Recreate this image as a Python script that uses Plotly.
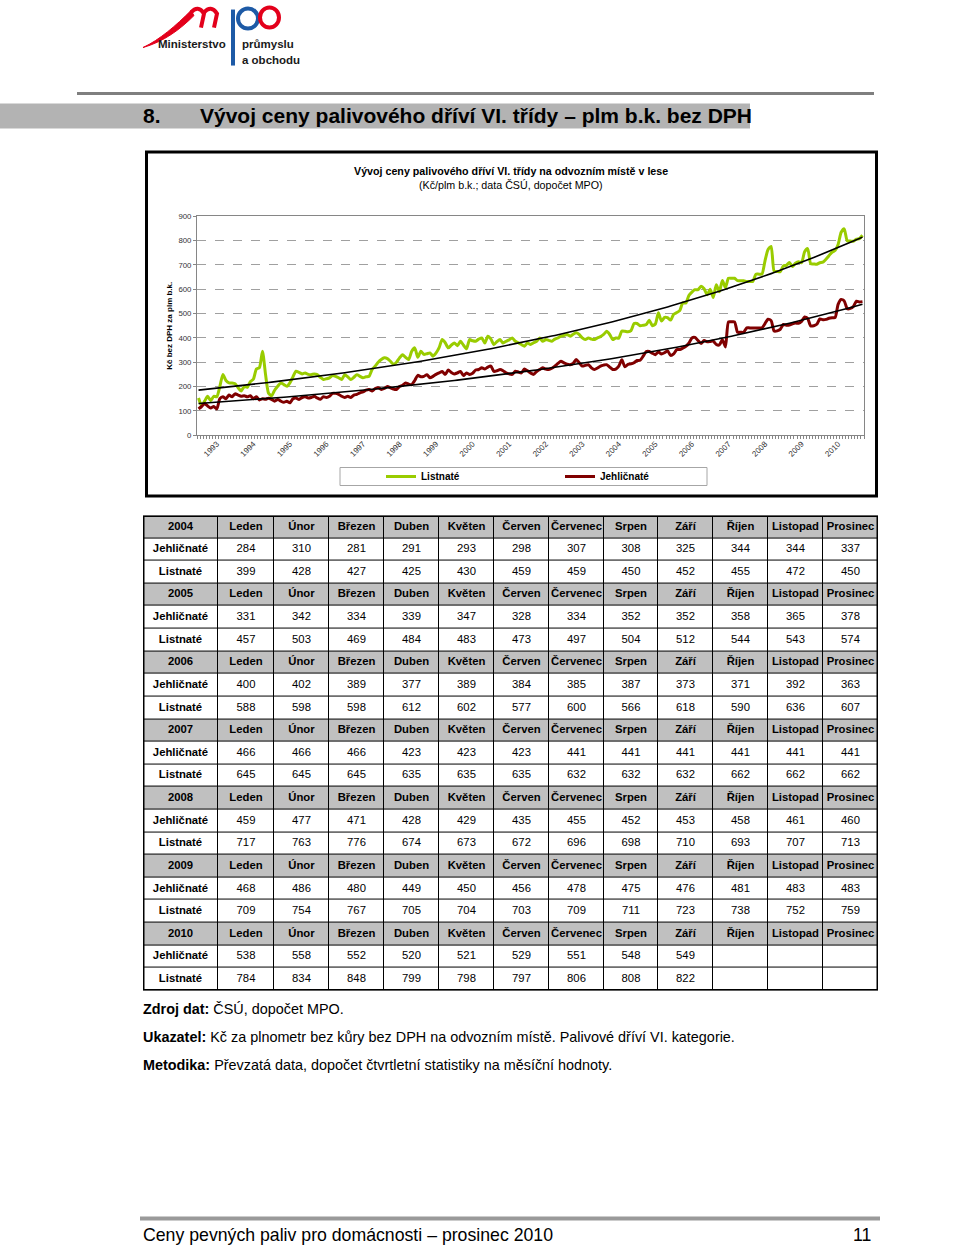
import numpy as np
import plotly.graph_objects as go

W, H = 960, 1246
# small vertical stretch about the page centre to match the reference layout
VS, VC = 1.0072, 623.0
def px(x): return x / W
def py(y): return 1 - (VC + (y - VC) * VS) / H

FONT = "Liberation Sans, Arial, sans-serif"

# ---------------- data ----------------
months = ["Leden", "Únor", "Březen", "Duben", "Květen", "Červen",
          "Červenec", "Srpen", "Září", "Říjen", "Listopad", "Prosinec"]
table_years = [2004, 2005, 2006, 2007, 2008, 2009, 2010]
axis_years = list(range(1993, 2011))
first_year, first_month = 1992, 7

jehl_1992_2003 = [
    108, 118, 130, 120, 112, 118, 108, 150, 158, 150, 165, 158,
    170, 165, 160, 162, 158, 162, 150, 158, 145, 150, 148, 152,
    147, 140, 147, 140, 135, 140, 133, 150, 153, 147, 155, 158,
    153, 155, 160, 153, 148, 158, 155, 160, 172, 172, 168, 160,
    155, 160, 155, 165, 168, 174, 178, 185, 188, 182, 192, 195,
    188, 192, 200, 195, 190, 188, 200, 205, 215, 210, 208, 225,
    246, 240, 242, 249, 236, 242, 250, 256, 262, 250, 268, 258,
    252, 256, 262, 245, 256, 250, 255, 268, 270, 277, 272, 280,
    284, 262, 265, 270, 265, 256, 252, 250, 263, 260, 256, 272,
    265, 256, 250, 262, 270, 277, 272, 270, 275, 284, 295, 304,
    297, 292, 290, 295, 311, 298, 284, 287, 290, 277, 270, 276,
    284, 288, 290, 280, 270, 272]
list_1992_2003 = [
    153, 122, 140, 160, 142, 160, 158, 200, 250, 225, 215, 215,
    212, 195, 182, 200, 197, 220, 230, 272, 278, 345, 250, 172,
    162, 185, 201, 215, 208, 201, 215, 240, 263, 258, 252, 256,
    250, 249, 252, 249, 238, 229, 232, 236, 245, 242, 236, 229,
    249, 240, 229, 238, 249, 242, 236, 240, 242, 270, 284, 300,
    311, 318, 315, 304, 292, 300, 318, 331, 320, 311, 345, 359,
    320, 345, 332, 335, 338, 325, 338, 360, 393, 380, 359, 370,
    379, 368, 386, 370, 355, 393, 388, 386, 395, 400, 379, 407,
    395, 373, 385, 393, 379, 386, 392, 400, 386, 380, 373, 366,
    379, 373, 380, 386, 400, 386, 393, 390, 386, 395, 400, 407,
    410, 414, 407, 415, 421, 414, 400, 393, 400, 395, 393, 400,
    405, 414, 427, 414, 393, 400]

jehl_2004 = [284, 310, 281, 291, 293, 298, 307, 308, 325, 344, 344, 337]
list_2004 = [399, 428, 427, 425, 430, 459, 459, 450, 452, 455, 472, 450]
jehl_2005 = [331, 342, 334, 339, 347, 328, 334, 352, 352, 358, 365, 378]
list_2005 = [457, 503, 469, 484, 483, 473, 497, 504, 512, 544, 543, 574]
jehl_2006 = [400, 402, 389, 377, 389, 384, 385, 387, 373, 371, 392, 363]
list_2006 = [588, 598, 598, 612, 602, 577, 600, 566, 618, 590, 636, 607]
jehl_2007 = [466, 466, 466, 423, 423, 423, 441, 441, 441, 441, 441, 441]
list_2007 = [645, 645, 645, 635, 635, 635, 632, 632, 632, 662, 662, 662]
jehl_2008 = [459, 477, 471, 428, 429, 435, 455, 452, 453, 458, 461, 460]
list_2008 = [717, 763, 776, 674, 673, 672, 696, 698, 710, 693, 707, 713]
jehl_2009 = [468, 486, 480, 449, 450, 456, 478, 475, 476, 481, 483, 483]
list_2009 = [709, 754, 767, 705, 704, 703, 709, 711, 723, 738, 752, 759]
jehl_2010 = [538, 558, 552, 520, 521, 529, 551, 548, 549]
list_2010 = [784, 834, 848, 799, 798, 797, 806, 808, 822]

jehl_tab = [jehl_2004, jehl_2005, jehl_2006, jehl_2007, jehl_2008, jehl_2009, jehl_2010]
list_tab = [list_2004, list_2005, list_2006, list_2007, list_2008, list_2009, list_2010]

col_widths = [75, 56, 55, 55, 55, 55, 55, 55, 54, 55, 55, 55, 55]

jehl = jehl_1992_2003 + sum(jehl_tab, [])
listn = list_1992_2003 + sum(list_tab, [])
n = len(jehl)
x = np.arange(n)

tickvals = [(yr - first_year) * 12 + (1 - first_month) for yr in axis_years]
ticktext = [str(yr) for yr in axis_years]

def exp_trend(vals):
    a, b = np.polyfit(x, np.log(np.array(vals, dtype=float)), 1)
    return np.exp(b) * np.exp(a * x)

fig = go.Figure()
fig.add_trace(go.Scatter(x=x, y=listn, name="Listnaté", mode="lines",
                         line=dict(color="#99cc00", width=3, shape="spline", smoothing=0.6),
                         hoverinfo="skip"))
fig.add_trace(go.Scatter(x=x, y=jehl, name="Jehličnaté", mode="lines",
                         line=dict(color="#800000", width=3, shape="spline", smoothing=0.6),
                         hoverinfo="skip"))
fig.add_trace(go.Scatter(x=x, y=exp_trend(listn), mode="lines", showlegend=False,
                         line=dict(color="black", width=1.6), hoverinfo="skip"))
fig.add_trace(go.Scatter(x=x, y=exp_trend(jehl), mode="lines", showlegend=False,
                         line=dict(color="black", width=1.6), hoverinfo="skip"))

# ---------------- table (heatmap cells + text on its own axes) ----------------
rows_text = []
rows_gray = []
for k, yr in enumerate(table_years):
    rows_text.append(["<b>%d</b>" % yr] + ["<b>%s</b>" % m for m in months])
    rows_gray.append([1] * 13)
    for label, series in (("Jehličnaté", jehl_tab[k]), ("Listnaté", list_tab[k])):
        rows_text.append(["<b>%s</b>" % label] +
                         [str(series[m]) if m < len(series) else "" for m in range(12)])
        rows_gray.append([0] * 13)
n_rows = len(rows_text)

col_edges = np.concatenate([[0], np.cumsum(col_widths)])
col_centers = (col_edges[:-1] + col_edges[1:]) / 2
row_edges = np.arange(n_rows + 1)

fig.add_trace(go.Heatmap(x=col_edges, y=row_edges, z=rows_gray,
                         colorscale=[[0, "white"], [1, "#c0c0c0"]], zmin=0, zmax=1,
                         showscale=False, xgap=1, ygap=1, hoverinfo="skip",
                         xaxis="x2", yaxis="y2"))
tx, ty, tt = [], [], []
for r in range(n_rows):
    for c in range(13):
        if rows_text[r][c]:
            tx.append(col_centers[c]); ty.append(r + 0.5); tt.append(rows_text[r][c])
fig.add_trace(go.Scatter(x=tx, y=ty, text=tt, mode="text", textposition="middle center",
                         textfont=dict(family=FONT, size=11.3, color="black"),
                         showlegend=False, hoverinfo="skip", xaxis="x2", yaxis="y2"))

# ---------------- layout ----------------
shapes = []
annotations = []

TBL_TOP, TBL_BOT = 516, 991
shapes.append(dict(type="rect", xref="x2", yref="y2", x0=0, x1=col_edges[-1], y0=0, y1=n_rows,
                   fillcolor="black", line=dict(width=0), layer="below"))
shapes.append(dict(type="rect", xref="x2", yref="y2", x0=0, x1=col_edges[-1], y0=0, y1=n_rows,
                   line=dict(color="black", width=3), layer="above"))

# top rule and heading band
shapes.append(dict(type="line", xref="paper", yref="paper", x0=px(77), x1=px(874),
                   y0=py(94), y1=py(94), line=dict(color="#7f7f7f", width=3)))
shapes.append(dict(type="rect", xref="paper", yref="paper", x0=0, x1=px(750),
                   y0=py(129), y1=py(104), fillcolor="#b3b3b3", line=dict(width=0), layer="below"))
annotations.append(dict(text="<b>8.</b>", x=px(141), y=py(116), xref="paper", yref="paper",
                        xanchor="left", yanchor="middle", showarrow=False,
                        font=dict(family=FONT, size=21, color="black")))
annotations.append(dict(text="<b>Vývoj ceny palivového dříví VI. třídy – plm b.k. bez DPH</b>",
                        x=px(198), y=py(116), xref="paper", yref="paper",
                        xanchor="left", yanchor="middle", showarrow=False,
                        font=dict(family=FONT, size=21, color="black")))

# logo (approximation)
RED, BLUE = "#e3001b", "#1d5aa6"
shapes.append(dict(type="path", xref="paper", yref="paper", fillcolor=RED, line=dict(color=RED, width=1),
                   path="M %f %f C %f %f %f %f %f %f L %f %f C %f %f %f %f %f %f Z" % (
                       px(143), py(48), px(160), py(40), px(176), py(26), px(191), py(11),
                       px(194), py(16), px(180), py(30), px(164), py(42), px(143), py(48))))
for (a, b) in [(191, 204), (204, 217)]:
    shapes.append(dict(type="path", xref="paper", yref="paper",
                       path="M %f %f Q %f %f %f %f L %f %f" % (px(a), py(13), px(a + 7), py(5),
                                                             px(b), py(14), px(b - 3), py(28)),
                       line=dict(color=RED, width=4)))
shapes.append(dict(type="line", xref="paper", yref="paper", x0=px(233), x1=px(233),
                   y0=py(66), y1=py(10), line=dict(color=BLUE, width=4)))
shapes.append(dict(type="circle", xref="paper", yref="paper", x0=px(238), x1=px(258),
                   y0=py(29), y1=py(9), line=dict(color=BLUE, width=4)))
shapes.append(dict(type="circle", xref="paper", yref="paper", x0=px(260), x1=px(279),
                   y0=py(28), y1=py(8), line=dict(color=RED, width=4)))
LOGOF = "Liberation Sans Narrow, Arial Narrow, Liberation Sans, sans-serif"
annotations.append(dict(text="<b>Ministerstvo</b>", x=px(228), y=py(44), xref="paper", yref="paper",
                        xanchor="right", yanchor="middle", showarrow=False,
                        font=dict(family=LOGOF, size=11.5, color="#1a1a1a")))
annotations.append(dict(text="<b>průmyslu</b>", x=px(240), y=py(44), xref="paper", yref="paper",
                        xanchor="left", yanchor="middle", showarrow=False,
                        font=dict(family=LOGOF, size=11.5, color="#1a1a1a")))
annotations.append(dict(text="<b>a obchodu</b>", x=px(240), y=py(60), xref="paper", yref="paper",
                        xanchor="left", yanchor="middle", showarrow=False,
                        font=dict(family=LOGOF, size=11.5, color="#1a1a1a")))

# chart frame
shapes.append(dict(type="rect", xref="paper", yref="paper", x0=px(146.5), x1=px(876.5),
                   y0=py(496.5), y1=py(152.5), line=dict(color="black", width=3)))
# chart title
annotations.append(dict(text="<b>Vývoj ceny palivového dříví VI. třídy na odvozním místě v lese</b>",
                        x=px(511), y=py(171), xref="paper", yref="paper", xanchor="center",
                        yanchor="middle", showarrow=False, font=dict(family=FONT, size=10.7, color="black")))
annotations.append(dict(text="(Kč/plm b.k.; data ČSÚ, dopočet MPO)",
                        x=px(511), y=py(185), xref="paper", yref="paper", xanchor="center",
                        yanchor="middle", showarrow=False, font=dict(family=FONT, size=10.7, color="black")))
# legend box
shapes.append(dict(type="rect", xref="paper", yref="paper", x0=px(340), x1=px(707),
                   y0=py(486), y1=py(468), line=dict(color="#a6a6a6", width=1), layer="below"))

# bottom notes
notes = [("<b>Zdroj dat:</b> ČSÚ, dopočet MPO.", 1010),
         ("<b>Ukazatel:</b> Kč za plnometr bez kůry bez DPH na odvozním místě. Palivové dříví VI. kategorie.", 1038),
         ("<b>Metodika:</b> Převzatá data, dopočet čtvrtletní statistiky na měsíční hodnoty.", 1066)]
for txt, yy in notes:
    annotations.append(dict(text=txt, x=px(141), y=py(yy), xref="paper", yref="paper",
                            xanchor="left", yanchor="middle", showarrow=False,
                            font=dict(family=FONT, size=14.4, color="black")))

# footer
shapes.append(dict(type="line", xref="paper", yref="paper", x0=px(140), x1=px(880),
                   y0=py(1219), y1=py(1219), line=dict(color="#9a9a9a", width=4)))
annotations.append(dict(text="Ceny pevných paliv pro domácnosti – prosinec 2010", x=px(141), y=py(1236),
                        xref="paper", yref="paper", xanchor="left", yanchor="middle", showarrow=False,
                        font=dict(family=FONT, size=17.7, color="black")))
annotations.append(dict(text="11", x=px(873), y=py(1236),
                        xref="paper", yref="paper", xanchor="right", yanchor="middle", showarrow=False,
                        font=dict(family=FONT, size=17.7, color="black")))

AXC = "#868686"
fig.update_layout(
    width=W, height=H, margin=dict(l=0, r=0, t=0, b=0),
    paper_bgcolor="white", plot_bgcolor="white",
    font=dict(family=FONT, color="black"),
    shapes=shapes, annotations=annotations,
    showlegend=True,
    legend=dict(orientation="h", x=px(381), y=py(477), xanchor="left", yanchor="middle",
                bgcolor="rgba(0,0,0,0)", borderwidth=0, entrywidth=134, entrywidthmode="pixels",
                font=dict(family=FONT, size=10, color="black", weight="bold"),
                traceorder="normal"),
    xaxis=dict(domain=[px(197), px(864)], range=[-0.5, n - 0.5],
               tickmode="array", tickvals=tickvals, ticktext=ticktext, tickangle=-45,
               tickfont=dict(family=FONT, size=8, color="#333333"),
               showgrid=False, zeroline=False, showline=True, linecolor=AXC, linewidth=1,
               mirror=True, ticks="",
               minor=dict(ticks="outside", tick0=0.5, dtick=1, ticklen=3, tickcolor=AXC,
                          tickwidth=1, showgrid=False)),
    yaxis=dict(domain=[py(435.7), py(216.7)], range=[0, 900], dtick=100,
               tickfont=dict(family=FONT, size=7.8, color="#333333"),
               showgrid=True, gridcolor="#a0a0a0", griddash="dash", gridwidth=1,
               zeroline=False, showline=True, linecolor=AXC, linewidth=1, mirror=True,
               ticks="outside", ticklen=3, tickcolor=AXC,
               title=dict(text="<b>Kč bez DPH za plm b.k.</b>", standoff=4,
                          font=dict(family=FONT, size=8, color="black"))),
    xaxis2=dict(domain=[px(143), px(878)], range=[0, float(col_edges[-1])], visible=False,
                anchor="y2", fixedrange=True),
    yaxis2=dict(domain=[py(TBL_BOT), py(TBL_TOP)], range=[n_rows, 0], visible=False,
                anchor="x2", fixedrange=True),
)

fig.write_html("out.html", config={"displayModeBar": False},
               post_script="document.body.style.margin='0px'; document.body.style.overflow='hidden';")
